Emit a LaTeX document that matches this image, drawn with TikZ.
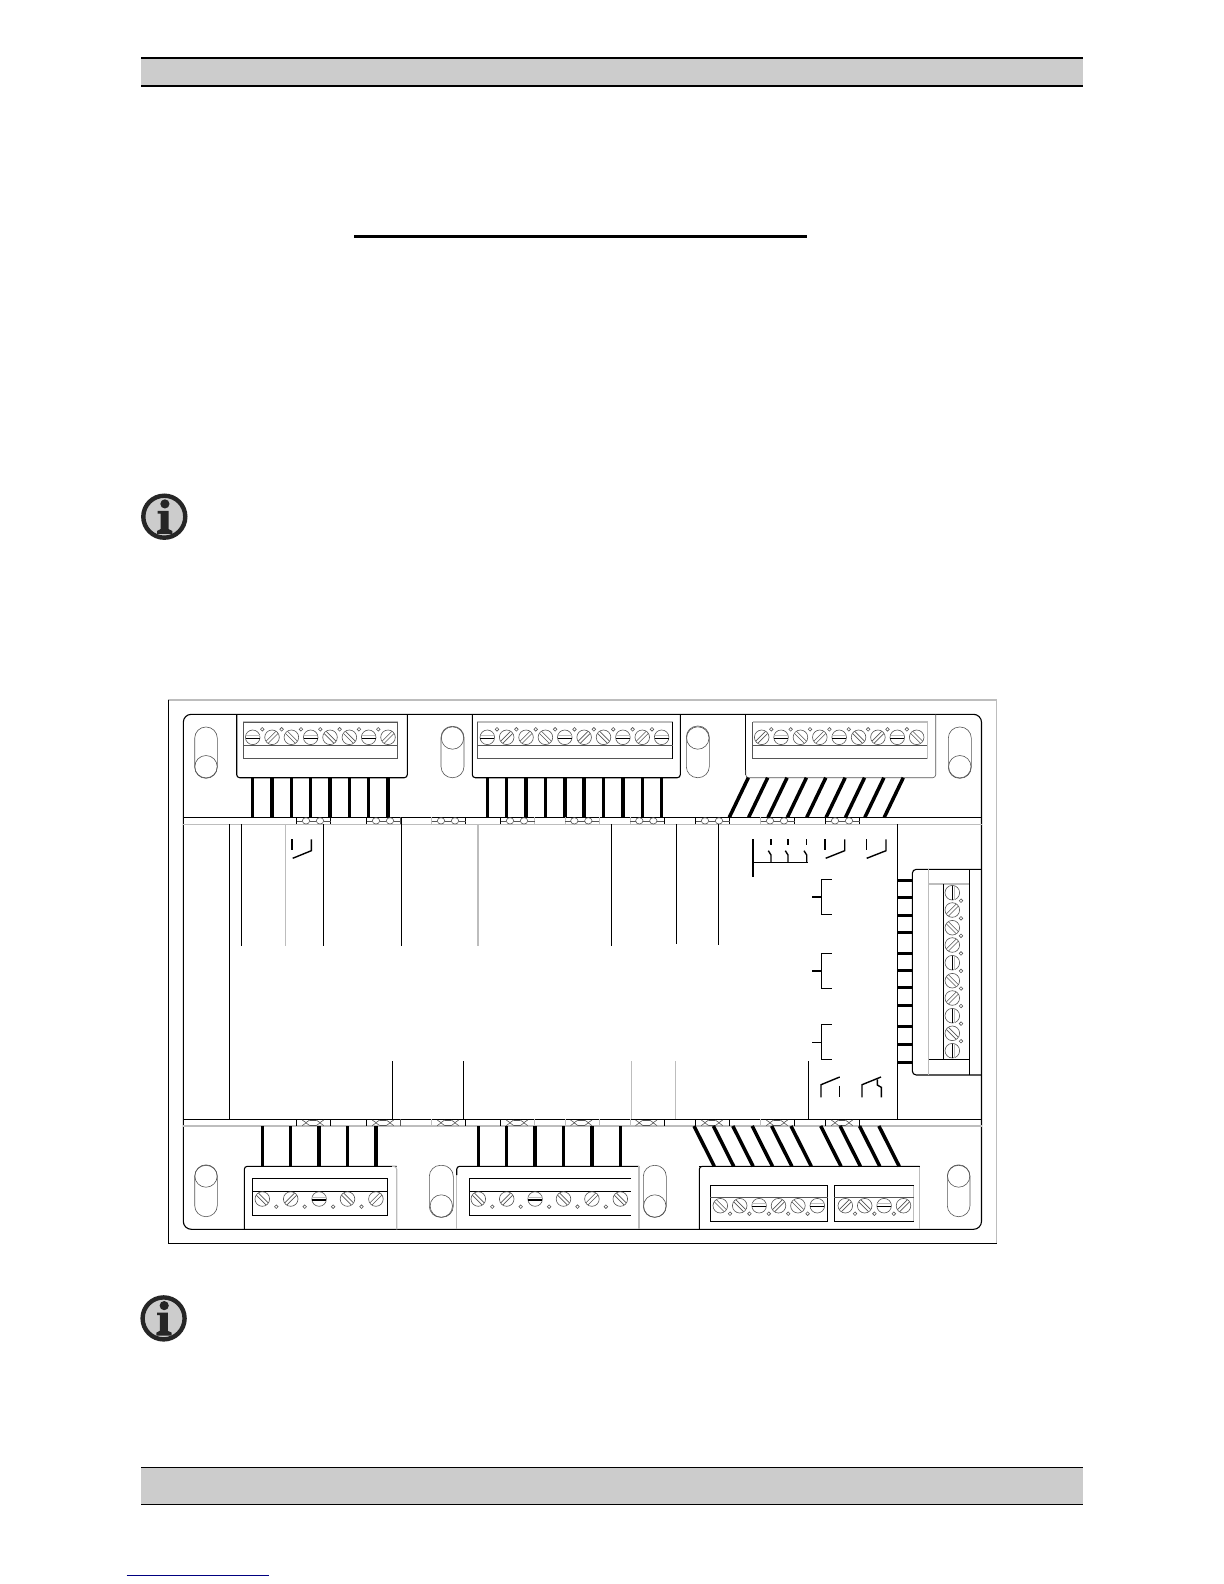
\documentclass[tikz,border=0pt]{standalone}
\definecolor{barfill}{HTML}{CCCCCC}
\definecolor{ltgray}{HTML}{BDBDBD}
\definecolor{midgray}{HTML}{555555}
\definecolor{linkblue}{HTML}{000080}
\tikzset{
  ln/.style={black,line width=0.55pt},
  gl/.style={ltgray,line width=0.55pt},
  thinln/.style={midgray,line width=0.3pt},
  wire/.style={black,line width=1.75pt},
  sym/.style={black,line width=0.7pt},
  barline/.style={black,line width=0.8pt},
}
% screw: x, y, angle
\newcommand\screwmark[3]{%
  \draw[thinln] (#1,#2) circle[radius=3.65pt];
  \ifnum#3=0
    \draw[shift={(#1,#2)},black,line width=0.6pt] (-3.55pt,-0.5pt) -- (3.55pt,-0.5pt);
    \draw[shift={(#1,#2)},ltgray,line width=0.3pt] (-3.4pt,1pt) -- (3.4pt,1pt);
  \else\ifnum#3=90
    \draw[shift={(#1,#2)},black,line width=0.5pt] (0,-3.6pt) -- (0,3.6pt);
    \draw[shift={(#1,#2)},ltgray,line width=0.3pt] (1.2pt,-3.4pt) -- (1.2pt,3.4pt);
  \else
    \draw[shift={(#1,#2)},rotate=#3,thinln] (-3.4pt,-0.75pt) -- (3.4pt,-0.75pt);
    \draw[shift={(#1,#2)},rotate=#3,thinln] (-3.4pt,0.75pt) -- (3.4pt,0.75pt);
  \fi\fi
}
% row of screws: x0, dx, y, angles
\newcommand\screwrow[4]{%
  \foreach \a [count=\i from 0] in {#4} {
    \pgfmathsetmacro\sx{#1+#2*\i}
    \screwmark{\sx}{#3}{\a}
  }
}
% row of small holes: x0, dx, y, last index
\newcommand\holerow[4]{%
  \foreach \i in {0,...,#4} {
    \pgfmathsetmacro\sx{#1+#2*\i}
    \draw[thinln] (\sx,#3) circle[radius=0.9pt];
  }
}
% wires: x0, dx, last index, y top, y bottom, shift of lower end
\newcommand\wirerow[6]{%
  \foreach \i in {0,...,#3} {
    \pgfmathsetmacro\sx{#1+#2*\i}
    \pgfmathsetmacro\ex{#1+#2*\i+#6}
    \draw[wire] (\sx,#4) -- (\ex,#5);
  }
}
% slot: x1, x2, y top, y bottom, circle centre y
\newcommand\slotshape[5]{%
  \draw[thinln,rounded corners=5.6pt] (#1,#3) rectangle (#2,#4);
  \pgfmathsetmacro\cx{(#1+#2)/2}
  \draw[thinln] (\cx,#5) circle[radius=5.6pt];
}
% info icon
\newcommand\infoicon[2]{%
  \begin{scope}[shift={(#1,#2)}]
    \draw[fill=barfill,draw=black!85,line width=2.2pt] (0,0) circle[radius=10.5pt];
    \fill[black!85] (0.3pt,6.4pt) circle[radius=2.3pt];
    \fill[black!85] (-3.3pt,2.9pt) -- (2.1pt,2.9pt) -- (2.1pt,-6.2pt)
       -- (4pt,-7.1pt) -- (4pt,-8.6pt) -- (-3.6pt,-8.6pt) -- (-3.6pt,-7.1pt)
       -- (-1.9pt,-6.2pt) -- (-1.9pt,1.6pt) -- (-3.3pt,1.6pt) -- cycle;
  \end{scope}
}
\begin{document}
\begin{tikzpicture}[x=0.5pt,y=-0.5pt]
\useasboundingbox (0,0) rectangle (1224,1584);
\fill[white] (0,0) rectangle (1224,1584);
% header, footer
\fill[barfill] (141,58.3) rectangle (1082.7,86.3);
\draw[barline] (141,58.3) -- (1082.7,58.3);
\draw[barline] (141,86.3) -- (1082.7,86.3);
\fill[barfill] (141,1467.3) rectangle (1082.7,1504.3);
\draw[barline] (141,1467.3) -- (1082.7,1467.3);
\draw[barline] (141,1504.3) -- (1082.7,1504.3);
\draw[linkblue,line width=0.5pt] (126.7,1575.3) -- (269,1575.3);
\draw[black,line width=1.5pt] (354,236.3) -- (806.7,236.3);
\infoicon{164.3}{516.7}
\infoicon{163.6}{1318.4}
% outer frame
\draw[gl] (168.3,1243.3) -- (168.3,700) -- (996.7,700) -- (996.7,1243.3);
\draw[ln] (168.3,700) -- (168.3,1243.3) -- (996.7,1243.3);
\draw[ln,rounded corners=4pt] (183.3,714.3) rectangle (981.5,1229.3);
% strips
\draw[ln] (183.3,817.3) -- (981.5,817.3);
\draw[gl] (183.3,824.3) -- (981.5,824.3);
\draw[ln] (183.3,1119.3) -- (981.5,1119.3);
\draw[gl] (183.3,1126) -- (981.5,1126);
% pin rows
\foreach \x/\lc/\rc in {296.7/black/black,366.7/black/midgray,431.7/ltgray/black,500.7/black/ltgray,565/ltgray/ltgray,630/ltgray/black,695.7/black/black,760.7/ltgray/black,825.7/black/black} {
  \pgfmathsetmacro\xa{\x+9.3}\pgfmathsetmacro\xb{\x+23.3}\pgfmathsetmacro\xr{\x+34}
  \pgfmathsetmacro\pa{\x+5.5}\pgfmathsetmacro\pb{\x+13}\pgfmathsetmacro\pc{\x+19.5}\pgfmathsetmacro\pd{\x+27}
  \draw[\lc,line width=0.45pt] (\x,817.3) -- (\x,824.3);
  \draw[\rc,line width=0.45pt] (\xr,817.3) -- (\xr,824.3);
  \draw[thinln] (\xa,820.8) ellipse[x radius=1.85pt,y radius=1.6pt];
  \draw[thinln] (\xb,820.8) ellipse[x radius=1.85pt,y radius=1.6pt];
  \draw[thinln] (\x,821) -- (\pa,821) (\pb,821) -- (\pc,821) (\pd,821) -- (\xr,821);
  \draw[\lc,line width=0.45pt] (\x,1119.3) -- (\x,1126);
  \draw[\rc,line width=0.45pt] (\xr,1119.3) -- (\xr,1126);
  \draw[thinln] (\pa,1120) -- (\xa,1122.6) -- (\pb,1120) (\pa,1125.6) -- (\xa,1122.9) -- (\pb,1125.6);
  \draw[thinln] (\pc,1120) -- (\xb,1122.6) -- (\pd,1120) (\pc,1125.6) -- (\xb,1122.9) -- (\pd,1125.6);
  \draw[thinln] (\pb,1120) -- (\pc,1120) (\pb,1125.6) -- (\pc,1125.6);
}
% long verticals, top
\draw[ln] (229.3,824.3) -- (229.3,1119.3);
\draw[ln] (241.3,824.3) -- (241.3,946);
\draw[gl] (285.7,824.3) -- (285.7,946);
\draw[ln] (323.3,824.3) -- (323.3,946);
\draw[ln] (401.3,817.3) -- (401.3,946);
\draw[gl] (478,824.3) -- (478,946);
\draw[ln] (611.3,824.3) -- (611.3,946);
\draw[ln] (676.3,824.3) -- (676.3,944);
\draw[ln] (718.3,824.3) -- (718.3,945);
\draw[ln] (897.3,824.3) -- (897.3,1119.3);
% contact under the first top block
\draw[sym] (292,839.3) -- (292,850);
\draw[sym] (311.3,839.3) -- (311.3,850.7) -- (292.7,858.3);
% long verticals, bottom
\draw[ln] (392.3,1061) -- (392.3,1119.3);
\draw[ln] (463.3,1061) -- (463.3,1119.3);
\draw[gl] (631.3,1061) -- (631.3,1119.3);
\draw[gl] (675.3,1061) -- (675.3,1119.3);
\draw[ln] (808.3,1061) -- (808.3,1119.3);
% top blocks
\draw[ln,rounded corners=1.5pt] (236.7,714.3) -- (236.7,777.7) -- (407.3,777.7) -- (407.3,714.3);
\draw[gl] (243.3,722) -- (397.7,722);
\draw[thinln] (243.3,722) rectangle (397.7,758.7);
\draw[thinln] (243.3,745.3) -- (397.7,745.3);
\screwrow{252.7}{19.33}{737.3}{0,45,-45,0,-45,-45,0,45}
\holerow{262.3}{19.33}{729.3}{6}
\wirerow{252.7}{19.33}{7}{777.7}{817.3}{0}
\draw[ln,rounded corners=1.5pt] (472.3,714.3) -- (472.3,777.7) -- (680.3,777.7) -- (680.3,714.3);
\draw[gl] (477.3,722) -- (672.7,722);
\draw[thinln] (477.3,722) -- (477.3,758.7) -- (672.7,758.7);
\draw[ln] (672.7,722) -- (672.7,758.7);
\draw[thinln] (477.3,745.3) -- (672.7,745.3);
\screwrow{487.3}{19.37}{737.3}{0,45,45,-45,0,45,-45,0,45,0}
\holerow{497}{19.37}{729.3}{8}
\wirerow{487.3}{19.37}{9}{777.7}{817.3}{0}
\draw[ln] (745.7,714.3) -- (745.7,775);
\draw[thinln,rounded corners=1.5pt] (745.7,770) -- (745.7,777.7) -- (935.7,777.7) -- (935.7,714.3);
\draw[gl] (752.7,722) -- (927.3,722) -- (927.3,758.7);
\draw[thinln] (752.7,722) -- (752.7,758.7) -- (927.3,758.7);
\draw[thinln] (752.7,745.3) -- (927.3,745.3);
\screwrow{761.7}{19.37}{737.3}{45,0,-45,45,0,-45,45,0,-45}
\holerow{771.3}{19.37}{729.3}{7}
\wirerow{748.3}{19.37}{8}{777.7}{817.3}{-19}
% slots
\slotshape{194.7}{217.3}{727}{778.3}{766.7}
\slotshape{441}{464}{726.3}{777.7}{738}
\slotshape{686.3}{709.3}{726}{777.7}{738}
\slotshape{948.3}{971.3}{727}{778.3}{766.7}
\slotshape{194.7}{217.3}{1165.3}{1216.7}{1176}
\slotshape{429.3}{453.3}{1165.3}{1217.3}{1206}
\slotshape{643.3}{666.3}{1165.3}{1217.3}{1206}
\slotshape{947.3}{970}{1165.3}{1216.7}{1176}
% bottom block A
\draw[ln,rounded corners=1.5pt] (244.3,1229.3) -- (244.3,1166.3) -- (396.7,1166.3);
\draw[gl,rounded corners=1.5pt] (392,1166.3) -- (396.7,1166.3) -- (396.7,1229.3);
\draw[ln] (252.3,1178.3) rectangle (387.7,1215.3);
\draw[ln] (252.3,1191.3) -- (387.7,1191.3);
\screwrow{262.3}{28.4}{1199}{-45,45,0,-45,45}
\holerow{276.3}{28.4}{1206.7}{3}
\wirerow{262.3}{28.4}{4}{1126}{1166.3}{0}
% bottom block B
\draw[gl] (456.7,1229.3) -- (456.7,1170);
\draw[ln,rounded corners=1.5pt] (456.7,1175) -- (456.7,1166.3) -- (639,1166.3);
\draw[gl] (639,1166.3) -- (639,1229.3);
\draw[ln] (631,1178.3) -- (469.3,1178.3) -- (469.3,1215.3) -- (631,1215.3);
\draw[ln] (469.3,1191.3) -- (631,1191.3);
\screwrow{478.3}{28.4}{1199}{-45,45,0,-45,45,-45}
\holerow{492.3}{28.4}{1206.7}{4}
\wirerow{478.3}{28.4}{5}{1126}{1166.3}{0}
% bottom block C
\draw[ln,rounded corners=1.5pt] (699.3,1229.3) -- (699.3,1166.3) -- (919.7,1166.3);
\draw[gl] (919.7,1166.3) -- (919.7,1229.3);
\draw[ln] (710.3,1185.3) rectangle (827.7,1221.3);
\draw[thinln] (710.3,1197.3) -- (827.7,1197.3);
\draw[gl] (913.7,1185.3) -- (913.7,1221.3);
\draw[ln] (913.7,1185.3) -- (834.3,1185.3) -- (834.3,1221.3) -- (913.7,1221.3);
\draw[thinln] (834.3,1197.3) -- (913.7,1197.3);
\screwrow{720.3}{19.4}{1205.7}{-45,-45,0,45,-45,0}
\holerow{730}{19.4}{1213.7}{4}
\screwrow{845.3}{19.4}{1205.7}{45,-45,0,45}
\holerow{855}{19.4}{1213.7}{2}
\wirerow{694}{19.4}{5}{1126}{1166.3}{20.3}
\wirerow{820.7}{19.4}{3}{1126}{1166.3}{20.3}
\draw[ln] (699.3,1166.3) -- (919.7,1166.3);
% right block
\draw[ln,rounded corners=2pt] (981.5,869.3) -- (912.3,869.3) -- (912.3,1075) -- (981.5,1075);
\draw[gl] (928.7,869.3) -- (928.7,1075);
\draw[ln] (969.3,869.3) -- (969.3,1075);
\draw[gl] (928.7,884) -- (969.3,884);
\draw[ln] (943.3,884) -- (943.3,1059.3);
\draw[ln] (928.7,1059.3) -- (969.3,1059.3);
\screwmark{952.3}{892.7}{90}
\screwmark{952.3}{910}{45}
\screwmark{952.3}{927.7}{-45}
\screwmark{952.3}{945}{45}
\screwmark{952.3}{962.7}{90}
\screwmark{952.3}{980.7}{-45}
\screwmark{952.3}{998}{45}
\screwmark{952.3}{1015.7}{90}
\screwmark{952.3}{1033.3}{-45}
\screwmark{952.3}{1050.7}{90}
\foreach \y in {900.7,918.3,935.8,953.4,970.9,988.5,1006,1023.6,1041.2} {
  \draw[thinln] (961,\y) circle[radius=0.9pt];
}
\foreach \y in {880,897.7,915.3,932.3,953,970,987.7,1005.3,1026.7,1044.3,1062} {
  \draw[black,line width=1.5pt] (897.3,\y) -- (912.3,\y);
}
% relay symbols, top
\draw[sym] (753,839.3) -- (753,877.3);
\draw[sym] (753,862.7) -- (807.7,862.7);
\foreach \x in {771,788,806.7} {
  \pgfmathsetmacro\xs{\x-2.7}
  \draw[sym] (\x,839.3) -- (\x,845);
  \draw[sym] (\xs,850.7) -- (\x,855) -- (\x,862.7);
}
\draw[sym] (825,839.3) -- (825,850);
\draw[sym] (844.7,839.3) -- (844.7,850.7) -- (825.7,858.3);
\draw[sym] (866.3,839.3) -- (866.3,850);
\draw[sym] (886,839.3) -- (886,850.7) -- (866.7,858.3);
% brackets
\foreach \ya/\ym/\yb in {879.3/897/914.7,953.3/971/988.7,1024.7/1042.3/1059.3} {
  \draw[sym] (831.7,\ya) -- (821.3,\ya) -- (821.3,\yb) -- (831.7,\yb);
  \draw[sym] (812,\ym) -- (821.3,\ym);
}
% relay symbols, bottom
\draw[sym] (821,1097.3) -- (821,1084.7) -- (839.7,1077);
\draw[sym] (839.7,1085.7) -- (839.7,1097.3);
\draw[sym] (862,1097.3) -- (862,1084.7) -- (881,1077);
\draw[sym] (877.3,1079.3) -- (877.3,1085) -- (881.3,1087.3) -- (881.3,1097.3);
\end{tikzpicture}
\end{document}
